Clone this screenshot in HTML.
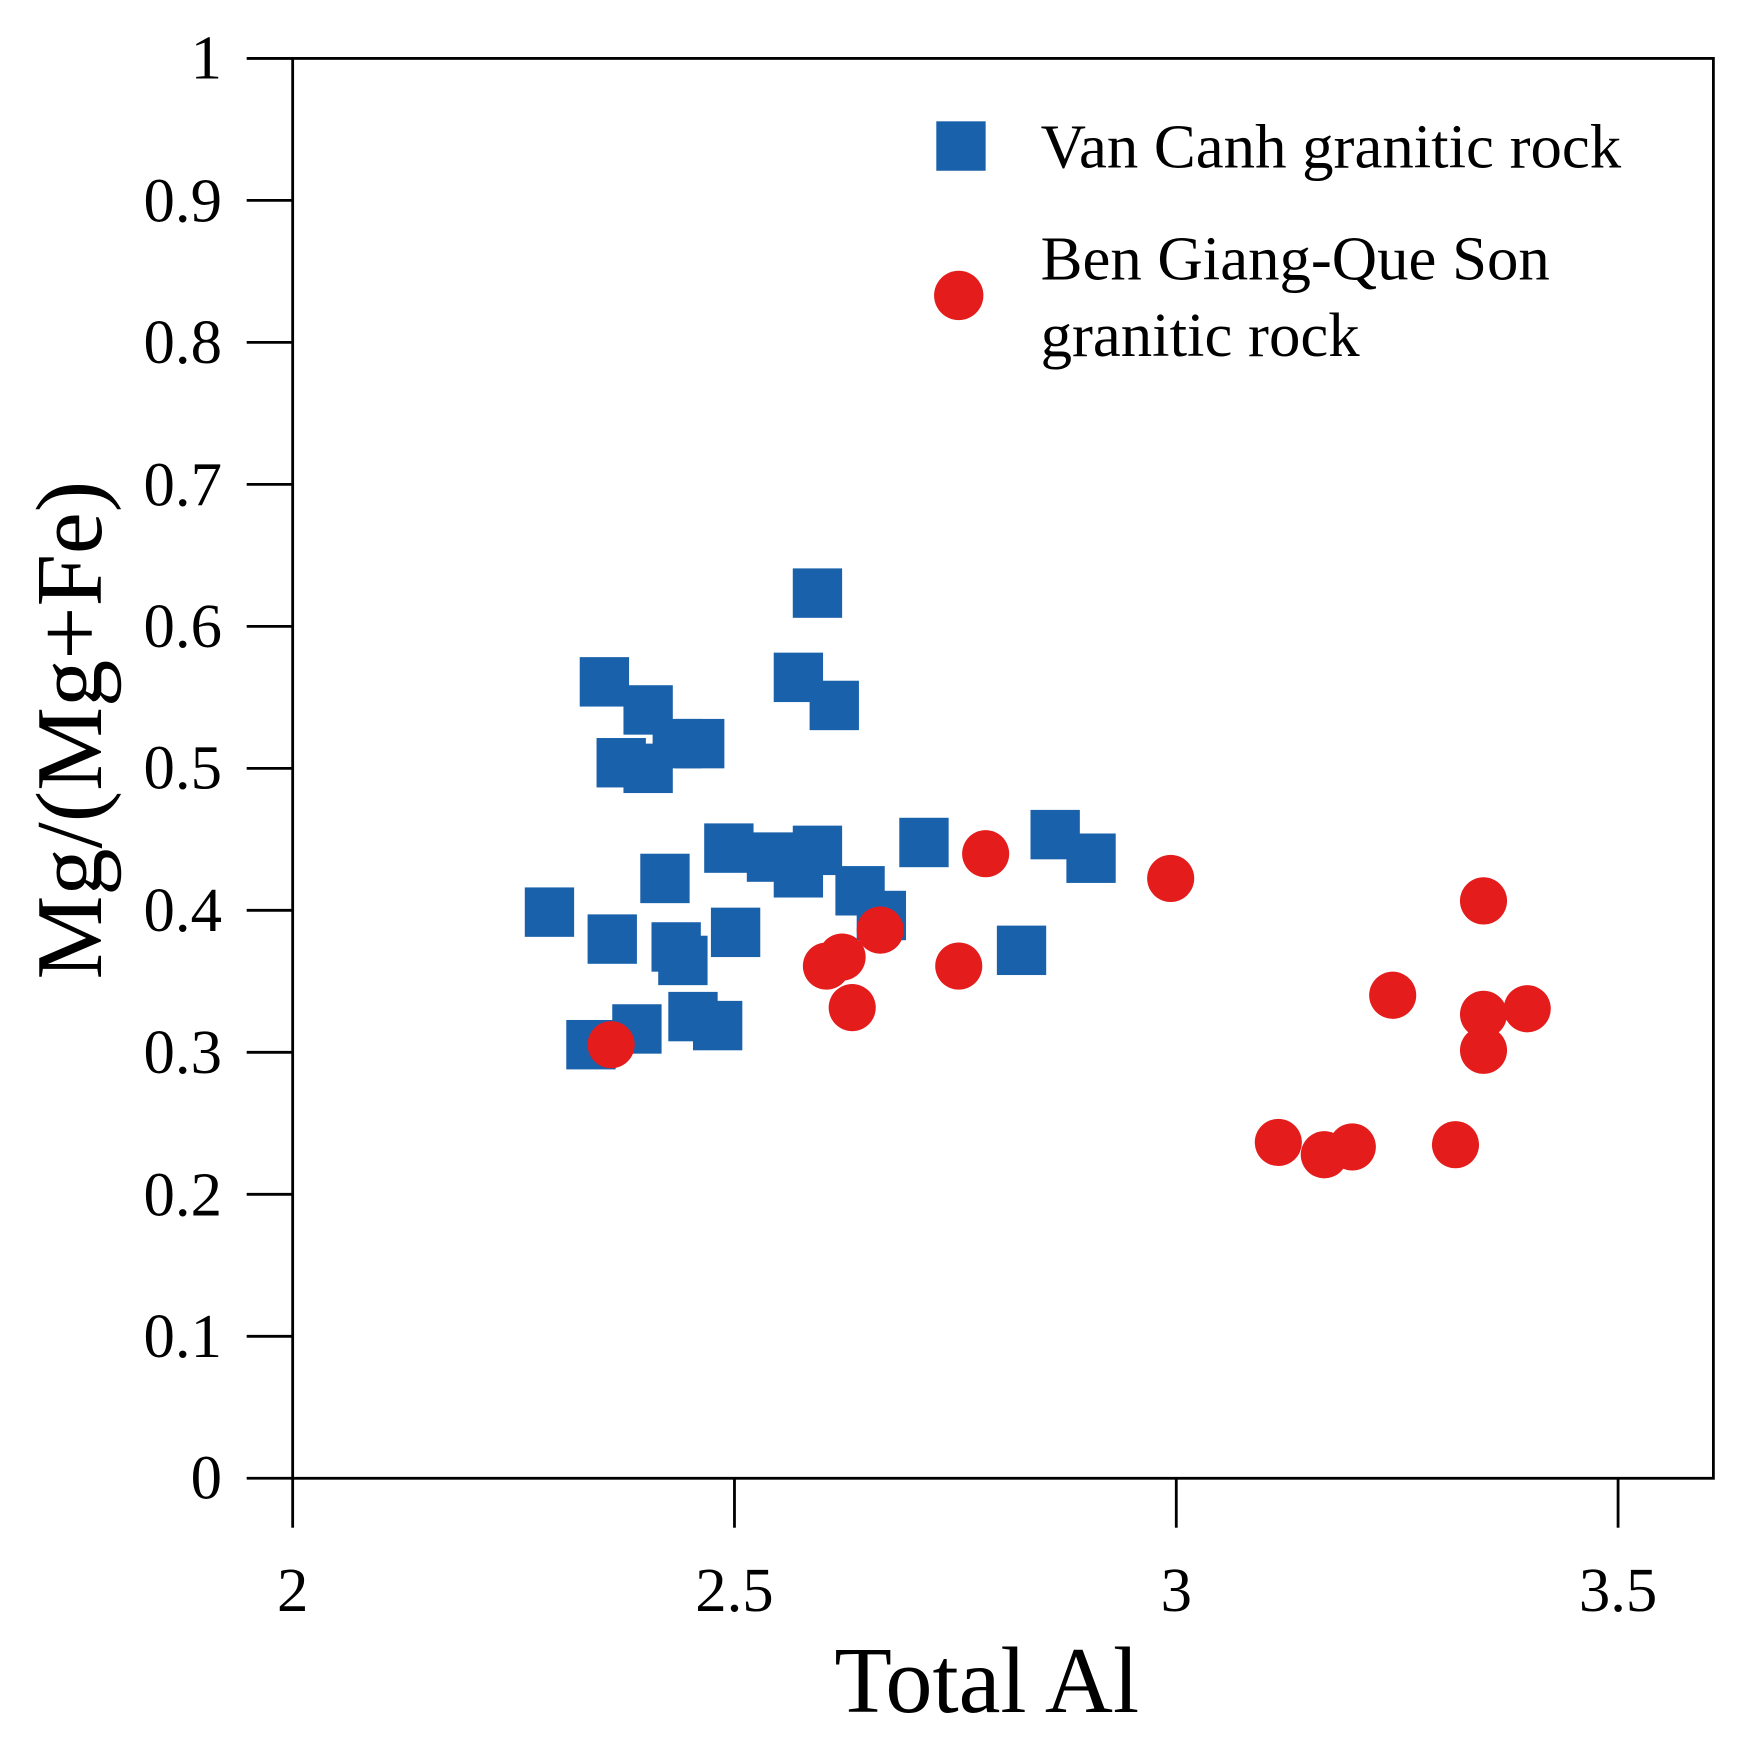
<!DOCTYPE html>
<html><head><style>html,body{margin:0;padding:0;background:#fff}svg{display:block}</style></head><body>
<svg width="1756" height="1749" viewBox="0 0 1566 1557" preserveAspectRatio="none" xmlns="http://www.w3.org/2000/svg" font-family="Liberation Serif, serif">
<rect width="1566" height="1557" fill="#fff"/>
<rect x="261" y="52" width="1267" height="1264" fill="none" stroke="#000" stroke-width="2.5"/>
<g stroke="#000" stroke-width="2.5">
<line x1="220" y1="52" x2="261" y2="52"/><line x1="220" y1="178.4" x2="261" y2="178.4"/><line x1="220" y1="304.8" x2="261" y2="304.8"/><line x1="220" y1="431.2" x2="261" y2="431.2"/><line x1="220" y1="557.6" x2="261" y2="557.6"/><line x1="220" y1="684" x2="261" y2="684"/><line x1="220" y1="810.4" x2="261" y2="810.4"/><line x1="220" y1="936.8" x2="261" y2="936.8"/><line x1="220" y1="1063.2" x2="261" y2="1063.2"/><line x1="220" y1="1189.6" x2="261" y2="1189.6"/><line x1="220" y1="1316" x2="261" y2="1316"/>
<line x1="261" y1="1316" x2="261" y2="1360"/><line x1="655" y1="1316" x2="655" y2="1360"/><line x1="1049" y1="1316" x2="1049" y2="1360"/><line x1="1443" y1="1316" x2="1443" y2="1360"/>
</g>
<g font-size="56" text-anchor="end">
<text x="198" y="70">1</text><text x="198" y="197">0.9</text><text x="198" y="323">0.8</text><text x="198" y="450">0.7</text><text x="198" y="576">0.6</text><text x="198" y="702">0.5</text><text x="198" y="829">0.4</text><text x="198" y="955">0.3</text><text x="198" y="1082">0.2</text><text x="198" y="1208">0.1</text><text x="198" y="1334">0</text>
</g>
<g font-size="56" text-anchor="middle">
<text x="261" y="1434">2</text><text x="655" y="1434">2.5</text><text x="1049" y="1434">3</text><text x="1443" y="1434">3.5</text>
</g>
<text x="880" y="1524" font-size="84" text-anchor="middle">Total Al</text>
<text transform="translate(90,650) rotate(-90)" font-size="84" text-anchor="middle">Mg/(Mg+Fe)</text>
<g fill="#1a61ab">
<rect x="835" y="108" width="44" height="44"/>
<rect x="517" y="585" width="44" height="44"/><rect x="556" y="610" width="44" height="44"/><rect x="707" y="506" width="44" height="44"/><rect x="690" y="581" width="44" height="44"/><rect x="722" y="606" width="44" height="44"/><rect x="532" y="657" width="44" height="44"/><rect x="556" y="662" width="44" height="44"/><rect x="582" y="640" width="44" height="44"/><rect x="602" y="640" width="44" height="44"/><rect x="628" y="733" width="44" height="44"/><rect x="666" y="741" width="44" height="44"/><rect x="690" y="755" width="44" height="44"/><rect x="707" y="735" width="44" height="44"/><rect x="468" y="790" width="44" height="44"/><rect x="524" y="814" width="44" height="44"/><rect x="571" y="760" width="44" height="44"/><rect x="581" y="821" width="44" height="44"/><rect x="587" y="833" width="44" height="44"/><rect x="634" y="808" width="44" height="44"/><rect x="745" y="771" width="44" height="44"/><rect x="764" y="793" width="44" height="44"/><rect x="802" y="728" width="44" height="44"/><rect x="919" y="721" width="44" height="44"/><rect x="951" y="742" width="44" height="44"/><rect x="889" y="824" width="44" height="44"/><rect x="505" y="908" width="44" height="44"/><rect x="546" y="894" width="44" height="44"/><rect x="596" y="883" width="44" height="44"/><rect x="618" y="891" width="44" height="44"/>
</g>
<g fill="#e41c1c">
<circle cx="855" cy="263" r="22"/>
<circle cx="545" cy="930" r="21"/><circle cx="737" cy="860" r="21"/><circle cx="751" cy="852" r="21"/><circle cx="785" cy="828" r="21"/><circle cx="760" cy="897" r="21"/><circle cx="855" cy="860" r="21"/><circle cx="879" cy="760" r="21"/><circle cx="1044" cy="782" r="21"/><circle cx="1323" cy="802" r="21"/><circle cx="1242" cy="886" r="21"/><circle cx="1323" cy="903" r="21"/><circle cx="1362" cy="898" r="21"/><circle cx="1323" cy="935" r="21"/><circle cx="1140" cy="1017" r="21"/><circle cx="1181" cy="1028" r="21"/><circle cx="1206" cy="1021" r="21"/><circle cx="1298" cy="1019" r="21"/>
</g>
<g font-size="56">
<text x="928" y="149">Van Canh granitic rock</text>
<text x="928" y="249">Ben Giang-Que Son</text>
<text x="928" y="317">granitic rock</text>
</g>
</svg>
</body></html>
